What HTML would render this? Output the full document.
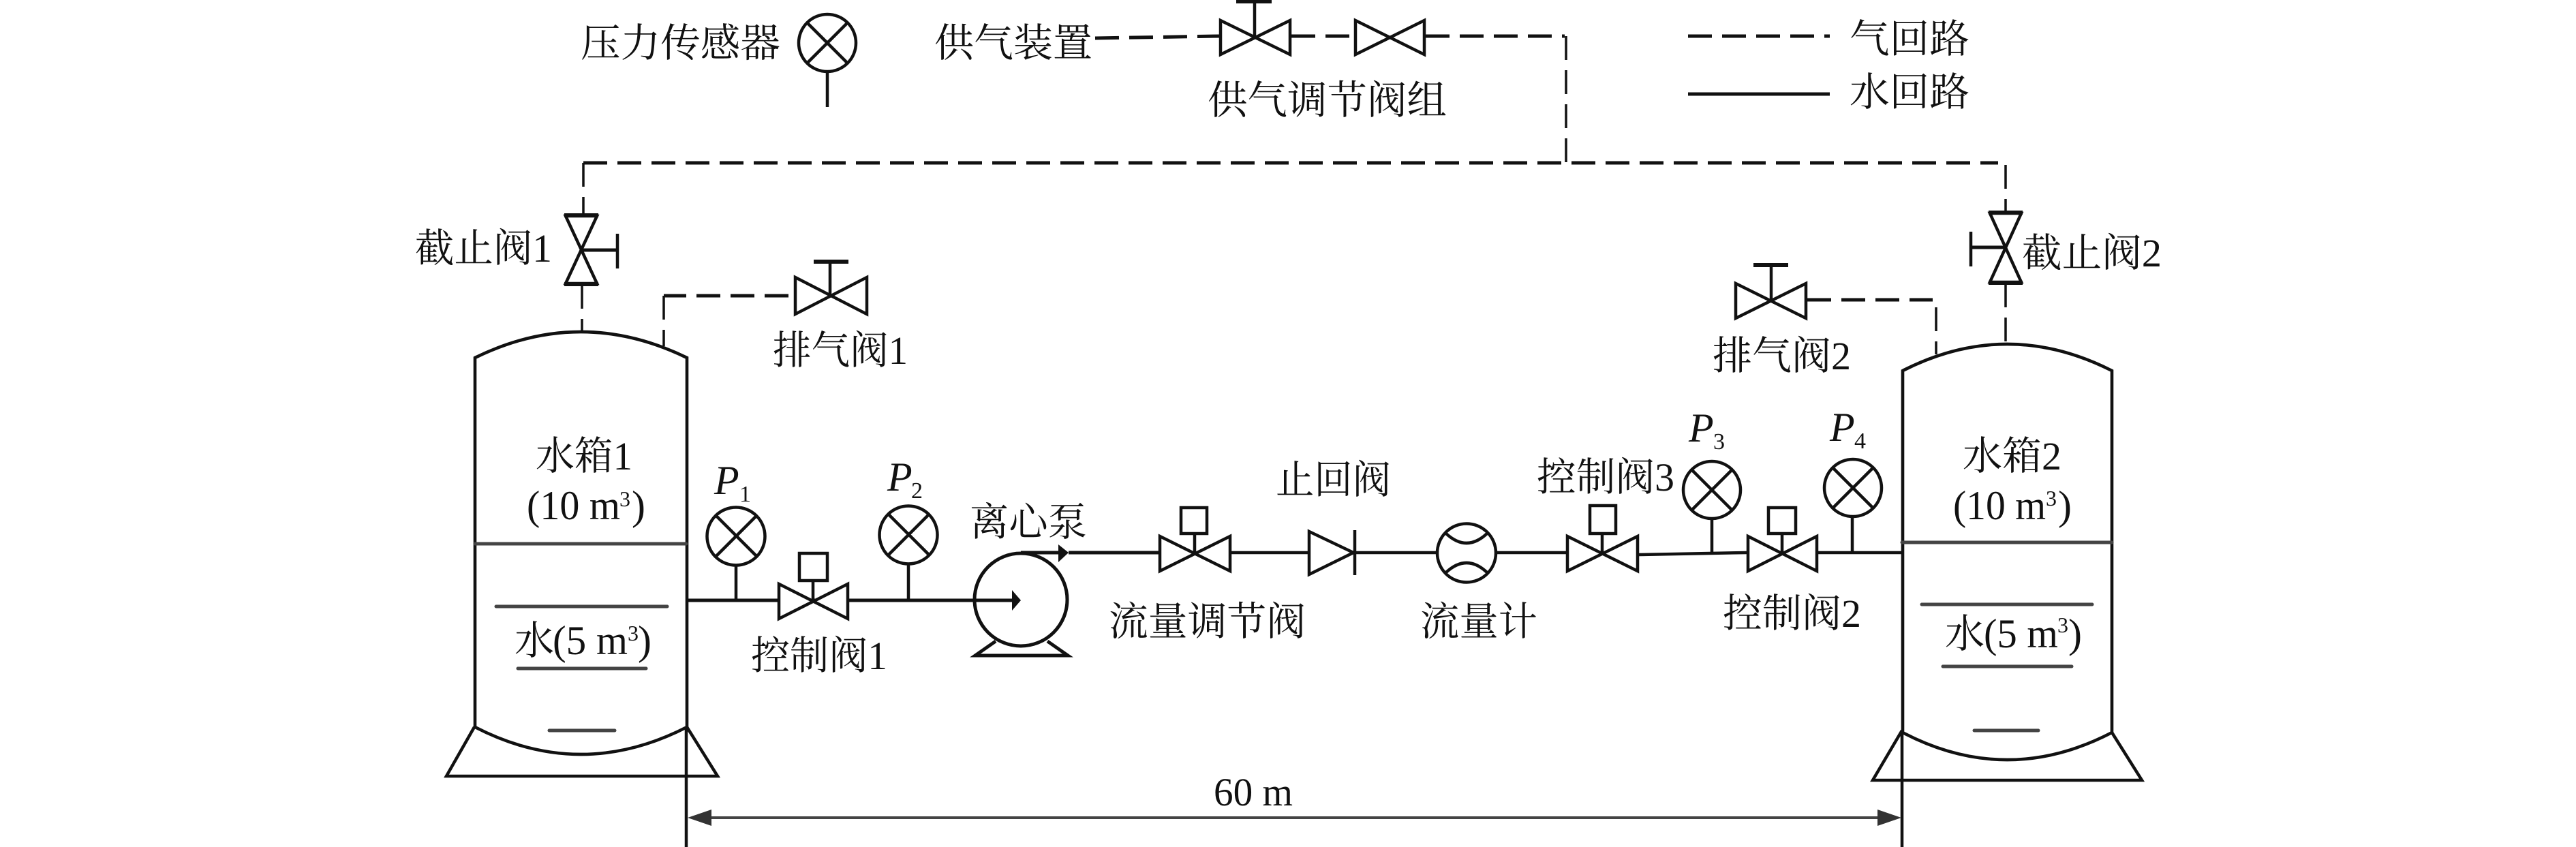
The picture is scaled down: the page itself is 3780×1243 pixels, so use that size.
<!DOCTYPE html>
<html><head><meta charset="utf-8">
<style>
html,body{margin:0;padding:0;background:#fff;width:3780px;height:1243px;overflow:hidden}
svg{display:block}
text{font-family:"Liberation Serif","Noto Serif CJK SC",serif;font-size:58px;fill:#111}
.l{font-size:60px}
.i{font-style:italic;font-size:60px}
.s{font-size:34px}
.u{font-size:32px}
.p{fill:none;stroke:#111;stroke-width:4.5}
.b{fill:none;stroke:#111;stroke-width:6}
.v{fill:#fff;stroke:#111;stroke-width:4.5;stroke-linejoin:miter}
.d{fill:none;stroke:#111;stroke-width:5;stroke-dasharray:35 15}
.e{fill:none;stroke:#111;stroke-width:3.5;stroke-dasharray:35 15}
.g{fill:none;stroke:#444;stroke-width:5;stroke-linecap:round}
</style></head><body>
<svg width="3780" height="1243" viewBox="0 0 3780 1243" xmlns="http://www.w3.org/2000/svg">

<!-- legend: sensor -->
<circle class="p" cx="1214" cy="63" r="42"/>
<path class="p" d="M1184 33L1244 93M1244 33L1184 93M1214 105V157"/>
<text x="852" y="83" textLength="293" lengthAdjust="spacingAndGlyphs">压力传感器</text>

<!-- supply -->
<text x="1371" y="83" textLength="232" lengthAdjust="spacingAndGlyphs">供气装置</text>
<path class="d" d="M1607 56L1789 53"/>
<path class="d" d="M1895 53H1987"/>
<path class="d" d="M2092 53H2296"/>
<path class="e" d="M2298 53V239"/>
<path class="v" d="M1791 30L1893 80V30L1791 80Z"/>
<path class="p" d="M1841 53V2"/><path class="b" d="M1814 2H1866"/>
<path class="v" d="M1989 30L2090 80V30L1989 80Z"/>
<text x="1772" y="167" textLength="351" lengthAdjust="spacingAndGlyphs">供气调节阀组</text>

<!-- legend: lines -->
<path class="d" d="M2477 53H2685"/>
<path class="b" style="stroke-width:5" d="M2477 138H2685"/>
<text x="2714" y="77" textLength="176" lengthAdjust="spacingAndGlyphs">气回路</text>
<text x="2714" y="155" textLength="176" lengthAdjust="spacingAndGlyphs">水回路</text>

<!-- air main -->
<path class="d" d="M856 239H2932"/>
<path class="e" d="M856 239V315"/>
<path class="e" d="M2943 242V311"/>
<path class="e" d="M854 418V486"/>
<path class="e" d="M2943 416V505"/>

<!-- stop valve 1 -->
<path class="v" d="M830 317H876L830 416H876Z"/>
<path class="b" d="M828 316H878M828 417H878"/>
<path class="b" style="stroke-width:5" d="M854 367H906"/><path class="p" d="M906 343V394"/>
<text x="609" y="384" textLength="201" lengthAdjust="spacingAndGlyphs">截止阀1</text>

<!-- stop valve 2 -->
<path class="v" d="M2920 313H2966L2920 414H2966Z"/>
<path class="b" d="M2918 312H2968M2918 415H2968"/>
<path class="b" style="stroke-width:5" d="M2943 363H2892"/><path class="p" d="M2892 340V391"/>
<text x="2967" y="391" textLength="205" lengthAdjust="spacingAndGlyphs">截止阀2</text>

<!-- vent valve 1 -->
<path class="d" d="M1157 434H974"/>
<path class="e" d="M974 434V508"/>
<path class="v" d="M1167 407L1272 461V407L1167 461Z"/>
<path class="p" d="M1218 434V384"/><path class="b" d="M1194 384H1245"/>
<text x="1134" y="534" textLength="198" lengthAdjust="spacingAndGlyphs">排气阀1</text>

<!-- vent valve 2 -->
<path class="d" d="M2652 440H2836"/>
<path class="e" d="M2841 451V520"/>
<path class="v" d="M2547 416L2650 467V416L2547 467Z"/>
<path class="p" d="M2599 440V389"/><path class="b" d="M2573 389H2624"/>
<text x="2513" y="542" textLength="203" lengthAdjust="spacingAndGlyphs">排气阀2</text>

<!-- tank 1 -->
<path class="p" style="stroke-width:4.6" d="M697 525Q852 449 1008 525V1067Q852 1147 697 1067Z"/>
<path class="p" d="M696 1067L655 1139H1053L1008 1067M1007 1067V1243"/>
<path class="g" d="M697 798H1007"/>
<path class="g" d="M728 890H979M760 981H948M806 1072H902"/>
<text x="786" y="689" textLength="142" lengthAdjust="spacingAndGlyphs">水箱1</text>
<text x="773" y="762" class="l" textLength="137" lengthAdjust="spacingAndGlyphs">(10 m</text><text x="909" y="743" class="u">3</text><text x="927" y="762" class="l">)</text>
<text x="755" y="960">水</text><text x="811" y="960" class="l" textLength="110" lengthAdjust="spacingAndGlyphs">(5 m</text><text x="921" y="940" class="u">3</text><text x="936" y="960" class="l">)</text>

<!-- tank 2 -->
<path class="p" style="stroke-width:4.6" d="M2792 544Q2945 466 3099 544V1075Q2945 1155 2792 1075Z"/>
<path class="p" d="M2791 1072L2748 1145H3143L3099 1075M2791 1072V1243"/>
<path class="g" d="M2791 796H3099"/>
<path class="g" d="M2820 887H3070M2851 978H3040M2897 1072H2991"/>
<text x="2880" y="689" textLength="145" lengthAdjust="spacingAndGlyphs">水箱2</text>
<text x="2866" y="762" class="l" textLength="136" lengthAdjust="spacingAndGlyphs">(10 m</text><text x="3002" y="742" class="u">3</text><text x="3020" y="762" class="l">)</text>
<text x="2854" y="950">水</text><text x="2911" y="950" class="l" textLength="109" lengthAdjust="spacingAndGlyphs">(5 m</text><text x="3019" y="928" class="u">3</text><text x="3035" y="950" class="l">)</text>

<!-- left pipe -->
<path class="p" style="stroke-width:5" d="M1007 881H1490"/>
<path d="M1485 866L1498 881L1485 896Z" fill="#111"/>
<circle class="p" cx="1080" cy="787" r="42.5"/>
<path class="p" d="M1051 757L1110 816M1110 757L1051 816M1080 829V881"/>
<circle class="p" cx="1333" cy="785" r="42.5"/>
<path class="p" d="M1304 755L1363 814M1363 755L1304 814M1333 827V881"/>
<path class="v" d="M1143 857L1244 908V857L1143 908Z"/>
<path class="p" d="M1193 882V853"/>
<rect class="v" x="1173" y="812" width="41" height="40"/>
<text x="1048" y="725" class="i">P</text><text x="1085" y="736" class="s">1</text>
<text x="1302" y="720" class="i">P</text><text x="1337" y="731" class="s">2</text>
<text x="1102" y="982" textLength="200" lengthAdjust="spacingAndGlyphs">控制阀1</text>
<text x="1423" y="786" textLength="172" lengthAdjust="spacingAndGlyphs">离心泵</text>

<!-- pump -->
<circle class="p" style="stroke-width:5" cx="1498" cy="880" r="68"/>
<path class="p" style="stroke-width:5" d="M1461 941L1431 962H1567L1537 941"/>
<path class="p" style="stroke-width:5" d="M1498 811H1556M1568 811H1702"/>
<path d="M1553 799L1568 811L1553 825Z" fill="#111"/>

<!-- flow valve -->
<path class="v" d="M1702 787L1805 838V787L1702 838Z"/>
<path class="p" d="M1753 812V784"/>
<rect class="v" x="1733" y="745" width="38" height="38"/>
<text x="1627" y="932" textLength="289" lengthAdjust="spacingAndGlyphs">流量调节阀</text>

<!-- check valve -->
<path class="p" d="M1807 811H1921M1988 811H2109"/>
<path class="v" d="M1921 780L1986 811L1921 843Z"/>
<path class="p" d="M1988 778V844"/>
<text x="1872" y="724" textLength="169" lengthAdjust="spacingAndGlyphs">止回阀</text>

<!-- flow meter -->
<circle class="p" cx="2152" cy="811.5" r="43"/>
<path class="p" d="M2122 783Q2152 811 2182 783M2122 840Q2152 812 2182 840"/>
<text x="2084" y="932" textLength="172" lengthAdjust="spacingAndGlyphs">流量计</text>

<!-- control valve 3 -->
<path class="p" d="M2195 811H2298"/>
<path class="v" d="M2300 787L2403 838V787L2300 838Z"/>
<path class="p" d="M2351 812V784"/>
<rect class="v" x="2333" y="742" width="38" height="41"/>
<text x="2255" y="720" textLength="202" lengthAdjust="spacingAndGlyphs">控制阀3</text>

<!-- P3 -->
<path class="p" d="M2405 814L2563 811"/>
<circle class="p" cx="2512" cy="719" r="42"/>
<path class="p" d="M2482 689L2542 749M2542 689L2482 749M2512 761V812"/>
<text x="2478" y="648" class="i">P</text><text x="2514" y="659" class="s">3</text>

<!-- control valve 2 -->
<path class="v" d="M2565 787L2666 838V787L2565 838Z"/>
<path class="p" d="M2615 812V783"/>
<rect class="v" x="2595" y="745" width="40" height="38"/>
<text x="2528" y="920" textLength="203" lengthAdjust="spacingAndGlyphs">控制阀2</text>

<!-- P4 -->
<path class="p" d="M2668 811H2791"/>
<circle class="p" cx="2719" cy="716" r="42"/>
<path class="p" d="M2689 686L2749 746M2749 686L2689 746M2718 758V811"/>
<text x="2685" y="647" class="i">P</text><text x="2721" y="658" class="s">4</text>

<!-- dimension -->
<path d="M1044 1200H2755" fill="none" stroke="#444" stroke-width="4"/>
<path d="M1009 1200L1044 1188V1212Z" fill="#333"/>
<path d="M2790 1200L2755 1188V1212Z" fill="#333"/>
<text x="1781" y="1182" textLength="116" lengthAdjust="spacingAndGlyphs">60 m</text>
</svg>
</body></html>
